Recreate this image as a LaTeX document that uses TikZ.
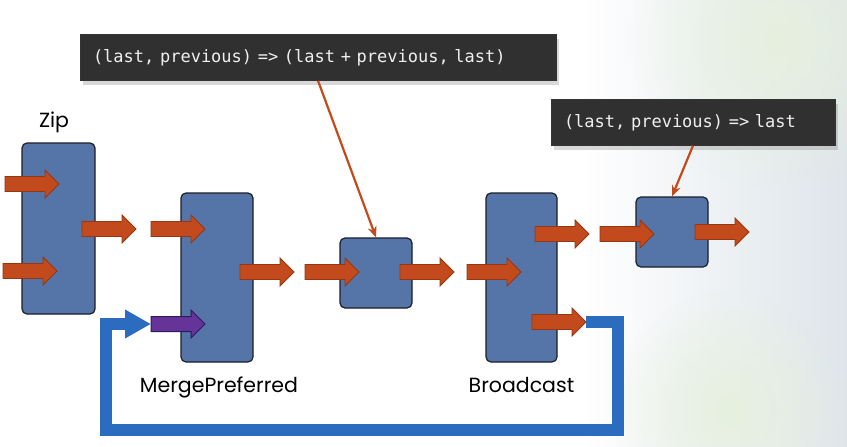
\documentclass[tikz,border=0pt]{standalone}
\usepackage{fontspec}
\setsansfont{Poppins}
\newfontfamily\codefont{DejaVu Sans Mono}
\usetikzlibrary{arrows.meta,shadows,fadings}
\definecolor{stage}{RGB}{85,117,168}
\definecolor{stageedge}{RGB}{28,30,40}
\definecolor{flowfill}{RGB}{194,74,28}
\definecolor{flowedge}{RGB}{150,55,20}
\definecolor{preferfill}{RGB}{102,51,153}
\definecolor{preferedge}{RGB}{40,28,90}
\definecolor{loopblue}{RGB}{43,108,190}
\definecolor{notefill}{RGB}{48,48,48}
\definecolor{notetext}{RGB}{240,240,240}
\definecolor{bgtint}{RGB}{222,229,234}
\definecolor{bgglow}{RGB}{230,240,222}
\tikzfading[name=softglow, inner color=transparent!0, outer color=transparent!100]

\begin{document}
\begin{tikzpicture}[x=1pt, y=-1pt, stagebox/.style={draw=stageedge, fill=stage, line width=1.2pt, rounded corners=5pt, inner sep=0pt}, stagelabel/.style={anchor=base, font=\sffamily\fontsize{20.5}{22}\selectfont, text=black}, note/.style={draw=black!80, fill=notefill, text=notetext, font=\codefont\fontsize{17}{19}\selectfont, align=left, inner xsep=13pt, minimum height=46pt, drop shadow={shadow xshift=3pt, shadow yshift=-4pt, opacity=0.3}}, noteline/.style={draw=flowfill, line width=2.2pt, -{Stealth[length=11pt, width=9pt]}}, loopline/.style={draw=loopblue, line width=12pt, -{Triangle[length=26pt, width=27pt]}}, orangeflow/.style={draw=flowedge, fill=flowfill, line width=0.8pt}, purpleflow/.style={draw=preferedge, fill=preferfill, line width=1pt}, pics/flow/.style={code={\draw[#1] (0,-7.5) -- (40,-7.5) -- (40,-14) -- (54,0) -- (40,14) -- (40,7.5) -- (0,7.5) -- cycle; \coordinate (-tail) at (0,0); \coordinate (-tip) at (54,0);}}, pics/flow/.default=orangeflow]
\useasboundingbox (0,0) rectangle (847,447);
\fill[white] (0,0) rectangle (847,447);
\shade[left color=white, right color=bgtint] (580,0) rectangle (847,447);
\fill[bgglow, path fading=softglow] (780,40) circle (150);
\fill[bgglow, path fading=softglow] (730,410) circle (120);
\node[stagebox, minimum width=73pt, minimum height=171pt] (zipbox) at (58.5,228.5) {};
\node[stagebox, minimum width=72pt, minimum height=169pt] (mergebox) at (217,277.5) {};
\node[stagebox, minimum width=72pt, minimum height=70pt] (sumbox) at (376,273) {};
\node[stagebox, minimum width=71pt, minimum height=169pt] (bcastbox) at (521.5,277.5) {};
\node[stagebox, minimum width=72pt, minimum height=70pt] (lastbox) at (672,232) {};
\node[stagelabel] (ziplabel) at (54,127) {Zip};
\node[stagelabel] (mergelabel) at (219,392) {MergePreferred};
\node[stagelabel] (bcastlabel) at (521.5,392) {Broadcast};
\pic (zin1) at (5,184) {flow};
\pic (zin2) at (3,271) {flow};
\pic (zout) at (82,229) {flow};
\pic (min) at (151,229) {flow};
\pic (mpref) at (151,324) {flow=purpleflow};
\pic (mout) at (240,272) {flow};
\pic (sin) at (305,272) {flow};
\pic (sout) at (400,272) {flow};
\pic (bin) at (467,272) {flow};
\pic (bout1) at (535,234) {flow};
\pic (bout2) at (532,322) {flow};
\pic (lin) at (600,234) {flow};
\pic (lout) at (695,232) {flow};
\coordinate (loopse) at (618,430);
\coordinate (loopsw) at (106,430);
\draw[loopline] (bout2-tip) -| (loopse) -- (loopsw) |- (mpref-tail);
\node[note, text width=450pt] (sumnote) at (318,57.5) {(last, previous) => (last + previous, last)};
\node[note, text width=258pt] (lastnote) at (693,122.5) {(last, previous) => last};
\draw[noteline] (sumnote.south) -- (sumbox.north);
\draw[noteline] (lastnote.south) -- (lastbox.north);
\end{tikzpicture}
\end{document}
